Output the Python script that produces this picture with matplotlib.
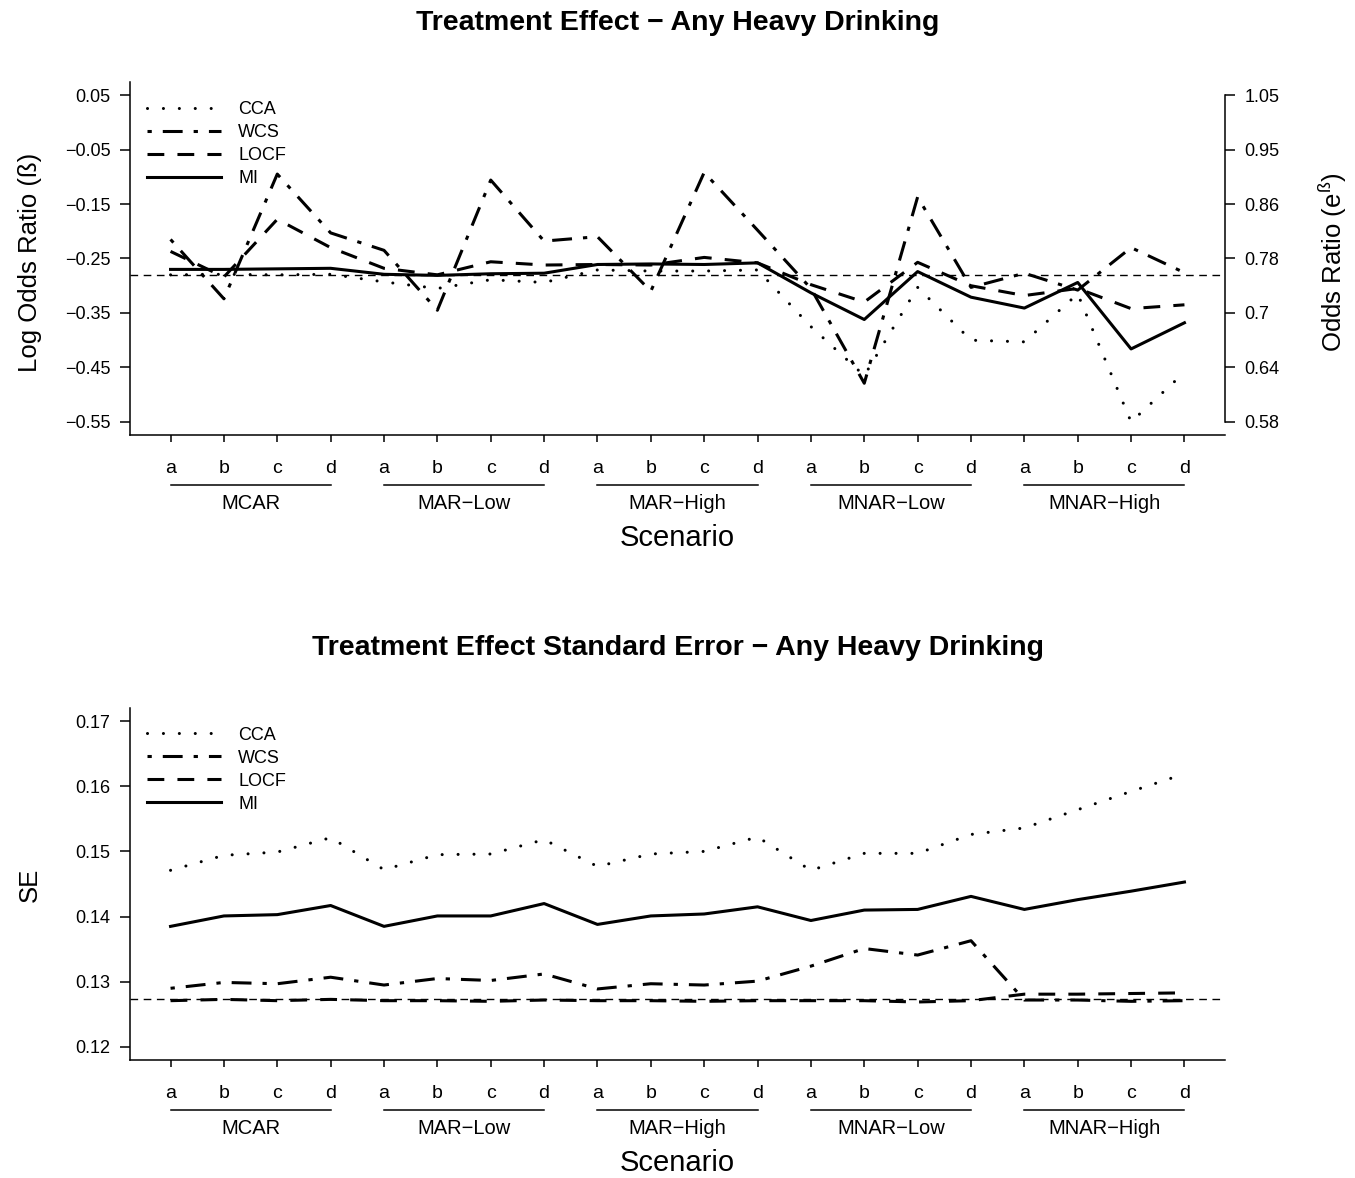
import numpy as np
import matplotlib
matplotlib.use("Agg")
import matplotlib.pyplot as plt
from matplotlib.transforms import blended_transform_factory, offset_copy

plt.rcParams.update({"font.family": ["Liberation Sans", "DejaVu Sans"], "axes.linewidth": 1.1,
                     "xtick.major.width": 1.1, "ytick.major.width": 1.1})

groups = ["MCAR", "MAR\u2212Low", "MAR\u2212High", "MNAR\u2212Low", "MNAR\u2212High"]
letters = ["a", "b", "c", "d"]
methods = ["CCA", "WCS", "LOCF", "MI"]

# treatment effect (log odds ratio), scenarios a-d for each missingness group
lor_cca = [-0.280, -0.279, -0.280, -0.279, -0.293, -0.305, -0.289, -0.294, -0.271, -0.273,
           -0.273, -0.271, -0.375, -0.465, -0.303, -0.400, -0.403, -0.315, -0.550, -0.459]
lor_wcs = [-0.215, -0.324, -0.095, -0.203, -0.235, -0.345, -0.106, -0.218, -0.210, -0.310,
           -0.092, -0.198, -0.305, -0.479, -0.137, -0.303, -0.277, -0.308, -0.230, -0.276]
lor_locf = [-0.237, -0.284, -0.178, -0.230, -0.268, -0.280, -0.256, -0.262, -0.261, -0.262,
            -0.248, -0.258, -0.298, -0.330, -0.257, -0.300, -0.318, -0.305, -0.342, -0.335]
lor_mi = [-0.270, -0.270, -0.269, -0.268, -0.279, -0.281, -0.278, -0.277, -0.261, -0.260,
          -0.261, -0.258, -0.313, -0.362, -0.274, -0.321, -0.341, -0.294, -0.416, -0.368]
true_lor = -0.28

# standard errors
se_cca = [0.1471, 0.1494, 0.1499, 0.1521, 0.1472, 0.1495, 0.1496, 0.1518, 0.1477, 0.1496,
          0.1500, 0.1522, 0.1471, 0.1497, 0.1497, 0.1526, 0.1536, 0.1564, 0.1592, 0.1619]
se_wcs = [0.1290, 0.1299, 0.1297, 0.1307, 0.1295, 0.1305, 0.1302, 0.1312, 0.1289, 0.1297,
          0.1295, 0.1301, 0.1324, 0.1351, 0.1341, 0.1363, 0.1272, 0.1272, 0.1270, 0.1271]
se_locf = [0.1271, 0.1273, 0.1271, 0.1273, 0.1271, 0.1271, 0.1270, 0.1272, 0.1271, 0.1271,
           0.1270, 0.1271, 0.1271, 0.1271, 0.1269, 0.1271, 0.1281, 0.1281, 0.1282, 0.1283]
se_mi = [0.1385, 0.1401, 0.1403, 0.1417, 0.1385, 0.1401, 0.1401, 0.1420, 0.1388, 0.1401,
         0.1404, 0.1415, 0.1394, 0.1410, 0.1411, 0.1431, 0.1411, 0.1426, 0.1439, 0.1453]
true_se = 0.1274

lor_ticks = [0.05, -0.05, -0.15, -0.25, -0.35, -0.45, -0.55]
se_ticks = [0.17, 0.16, 0.15, 0.14, 0.13, 0.12]

STY = {"CCA": dict(dashes=(0.01, 5.2), dash_capstyle="round"),
       "WCS": dict(dashes=(1.4, 3.6, 6.5, 3.6)),
       "LOCF": dict(dashes=(5.5, 4.3)),
       "MI": dict(linestyle="-")}

W, H = 1355, 1178
fig = plt.figure(figsize=(W / 100, H / 100), dpi=100)
x = np.arange(1, 21)


def fmt(v):
    return f"{v:.2f}".replace("-", "\u2212")


def panel(rect, series, ref, ticks, ylim, leg_top):
    ax = fig.add_axes(rect)
    for m, y in zip(methods, series):
        ax.plot(x, y, color="black", lw=2.2, label=m, **STY[m])
    ax.axhline(ref, color="black", lw=1.0, dashes=(5.5, 4))
    ax.set_xlim(0.24, 20.76)
    ax.set_ylim(*ylim)
    ax.spines["top"].set_visible(False)
    ax.spines["right"].set_visible(False)
    ax.set_yticks(ticks)
    ax.set_yticklabels([fmt(t) for t in ticks])
    ax.tick_params(axis="y", length=7, pad=7, labelsize=13)
    ax.set_xticks(x)
    ax.set_xticklabels(letters * len(groups))
    ax.tick_params(axis="x", length=5, pad=13, labelsize=14)
    blend = blended_transform_factory(ax.transData, ax.transAxes)
    tl = offset_copy(blend, fig=fig, y=-36, units="points")
    tg = offset_copy(blend, fig=fig, y=-49.5, units="points")
    ts = offset_copy(blend, fig=fig, y=-74, units="points")
    for g, name in enumerate(groups):
        a, b = g * 4 + 1, g * 4 + 4
        ax.plot([a, b], [0, 0], color="black", lw=1.1, transform=tl, clip_on=False)
        ax.text((a + b) / 2, 0, name, transform=tg, ha="center", va="center", fontsize=14.5)
    ax.text(10.5, 0, "Scenario", transform=ts, ha="center", va="center", fontsize=21)
    ax.legend(loc="upper left", bbox_to_anchor=(0.0155, leg_top), frameon=False, fontsize=13,
              handlelength=4.1, handletextpad=0.95, labelspacing=0.33, borderpad=0, borderaxespad=0)
    return ax


ax1 = panel([130 / W, 1 - 435 / H, 1095 / W, 353 / H],
            [lor_cca, lor_wcs, lor_locf, lor_mi], true_lor, lor_ticks, (-0.574, 0.074), 0.946)
ax1r = ax1.twinx()
ax1r.set_ylim(ax1.get_ylim())
for s in ["top", "left", "bottom"]:
    ax1r.spines[s].set_visible(False)
ax1r.spines["right"].set_bounds(min(lor_ticks), max(lor_ticks))
ax1r.set_yticks(lor_ticks)
ax1r.set_yticklabels([f"{round(float(np.exp(t)), 2):g}" for t in lor_ticks])
ax1r.tick_params(axis="y", length=7, pad=7, labelsize=13)

ax2 = panel([130 / W, 1 - 1060 / H, 1095 / W, 352 / H],
            [se_cca, se_wcs, se_locf, se_mi], true_se, se_ticks, (0.118, 0.172), 0.947)

fig.text(0.5, 1 - 23 / H, "Treatment Effect \u2212 Any Heavy Drinking", ha="center", va="center",
         fontsize=20.5, fontweight="bold")
fig.text(0.5, 1 - 648 / H, "Treatment Effect Standard Error \u2212 Any Heavy Drinking", ha="center",
         va="center", fontsize=20.5, fontweight="bold")
fig.text(30 / W, 1 - 262 / H, "Log Odds Ratio (ß)", rotation=90, ha="center", va="center", fontsize=18.5)
fig.text(1333 / W, 1 - 262 / H, "Odds Ratio ($\\mathregular{e^{ß}}$)", rotation=90, ha="center",
         va="center", fontsize=18.5)
fig.text(30 / W, 1 - 885 / H, "SE", rotation=90, ha="center", va="center", fontsize=18.5)

fig.savefig("out.png", dpi=100, facecolor="white")
